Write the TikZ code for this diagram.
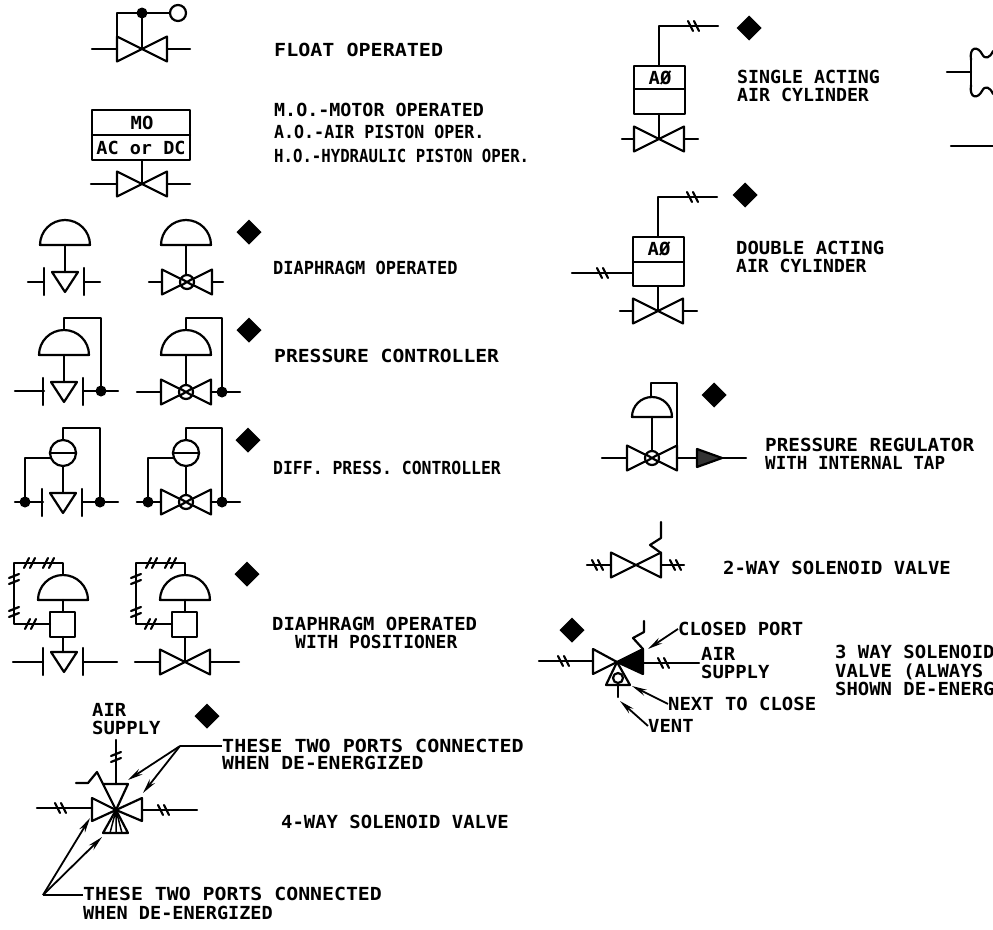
\documentclass[tikz,border=0pt]{standalone}
\usepackage{fontspec}
\newfontfamily\cadfont{DejaVu Sans Mono}
\usetikzlibrary{arrows.meta}

\newcommand{\valve}[2]{\draw[pipe] (#1-25,#2-12.5) -- ++(0,25) -- (#1+25,#2-12.5) -- ++(0,25) -- cycle;}
\newcommand{\ball}[2]{\draw[pipe,fill=white] (#1,#2) circle (7); \draw[pipe] (#1-6,#2-3.5) -- (#1+6,#2+3.5) (#1-6,#2+3.5) -- (#1+6,#2-3.5);}
\newcommand{\cutvalve}[2]{\draw[pipe] (#1-13,#2-10) -- (#1+13,#2-10) -- (#1,#2+10) -- cycle;
  \draw[pipe] (#1-21,#2-14) -- ++(0,27) (#1+19,#2-14) -- ++(0,27);}
\newcommand{\dome}[3]{\draw[pipe] (#1-#3,#2) arc[start angle=180,end angle=360,radius=#3] -- cycle;}
\newcommand{\cell}[2]{\draw[pipe] (#1,#2) circle (13); \draw[pipe,line width=2.8pt] (#1-13,#2) -- (#1+13,#2);}
\newcommand{\blip}[2]{\fill (#1,#2-12.5) -- (#1+12.5,#2) -- (#1,#2+12.5) -- (#1-12.5,#2) -- cycle;}
\newcommand{\joint}[2]{\fill (#1,#2) circle (5.5);}
\newcommand{\hticks}[2]{\draw[pipe] (#1-6,#2+5) -- (#1-1,#2-5) (#1,#2+5) -- (#1+5,#2-5);}
\newcommand{\bticks}[2]{\draw[pipe] (#1-5,#2-5) -- (#1,#2+5) (#1+1,#2-5) -- (#1+6,#2+5);}
\newcommand{\vticks}[2]{\draw[pipe] (#1-5,#2-1) -- (#1+5,#2-5) (#1-5,#2+5) -- (#1+5,#2+1);}

\tikzset{nar/.style={xscale=#1,transform shape}}

\begin{document}
\begin{tikzpicture}[x=1pt,y=-1pt]

  \tikzstyle{pipe}=[line width=2.2pt,line join=round,line cap=round]
  \tikzstyle{lab}=[font=\cadfont\bfseries\fontsize{18}{18}\selectfont,inner sep=0,anchor=base west,nar=1.05]
  \tikzstyle{mid}=[font=\cadfont\bfseries\fontsize{18}{18}\selectfont,inner sep=0,nar=1.05]
  \tikzstyle{leader}=[line width=1.8pt,-{Stealth[length=15pt,width=6.5pt]}]

  \useasboundingbox (0,0) rectangle (993,929);
  \clip (0,0) rectangle (993,929);

  % float operated
  \valve{142}{49}
  \draw[pipe] (92,49) -- (117,49) (167,49) -- (190,49);
  \draw[pipe] (142,49) -- (142,13) (117,37) -- (117,13) -- (170,13);
  \draw[pipe] (178,13) circle (8);
  \joint{142}{13}
  \node[lab,nar=1.06] (float) at (274,56.5) {FLOAT OPERATED};

  % motor operated
  \draw[pipe] (92,110) rectangle (190,160) (92,135) -- (190,135);
  \node[mid] (mo) at (142,123) {MO};
  \node[mid,nar=.98] (acdc) at (141,148) {AC or DC};
  \draw[pipe] (142,160) -- (142,184);
  \valve{142}{184}
  \draw[pipe] (91,184) -- (117,184) (167,184) -- (190,184);
  \path (274,116.5) node[lab,nar=.97] (moa) {M.O.-MOTOR OPERATED}
        (274,138.5) node[lab,nar=.88] (mob) {A.O.-AIR PISTON OPER.}
        (274,162.5) node[lab,nar=.83] (moc) {H.O.-HYDRAULIC PISTON OPER.};

  % diaphragm operated
  \dome{65}{245}{25}
  \draw[pipe] (65,245) -- (65,272);
  \cutvalve{65}{282}
  \draw[pipe] (28,282) -- (44,282) (84,282) -- (100,282);
  \dome{186}{245}{25}
  \draw[pipe] (186,245) -- (186,275);
  \valve{187}{282}
  \ball{187}{282}
  \draw[pipe] (149,282) -- (162,282) (212,282) -- (223,282);
  \blip{249}{232}
  \node[lab,nar=.9] (diaop) at (273,274.5) {DIAPHRAGM OPERATED};

  % pressure controller
  \dome{64}{355}{25}
  \draw[pipe] (64,355) -- (64,382) (64,330) -- (64,318) -- (101,318) -- (101,391);
  \cutvalve{64}{392}
  \draw[pipe] (15,391) -- (44,391) (84,391) -- (118,391);
  \joint{101}{391}
  \dome{186}{355}{25}
  \draw[pipe] (186,355) -- (186,384) (186,330) -- (186,318) -- (222,318) -- (222,392);
  \valve{186}{392}
  \ball{186}{392}
  \draw[pipe] (137,392) -- (161,392) (211,392) -- (240,392);
  \joint{222}{392}
  \blip{249}{330}
  \node[lab,nar=1.04] (presctl) at (274,362.5) {PRESSURE CONTROLLER};

  % diff. press. controller
  \cell{63}{453}
  \draw[pipe] (63,440) -- (63,428) -- (100,428) -- (100,502);
  \draw[pipe] (51,458) -- (25,458) -- (25,502) (63,466) -- (63,492);
  \cutvalve{63}{503}
  \draw[pipe] (15,502) -- (43,502) (83,502) -- (118,502);
  \joint{25}{502}
  \joint{100}{502}
  \cell{186}{453}
  \draw[pipe] (186,440) -- (186,428) -- (222,428) -- (222,502);
  \draw[pipe] (174,458) -- (148,458) -- (148,502) (186,466) -- (186,495);
  \valve{186}{502}
  \ball{186}{502}
  \draw[pipe] (137,502) -- (161,502) (211,502) -- (240,502);
  \joint{148}{502}
  \joint{222}{502}
  \blip{248}{440}
  \node[lab,nar=.87] (diffctl) at (273,474.5) {DIFF. PRESS. CONTROLLER};

  % with positioner
  \dome{63}{600}{25}
  \draw[pipe] (50,612) rectangle (75,637);
  \draw[pipe] (63,600) -- (63,612) (63,637) -- (63,652);
  \draw[pipe] (50,624) -- (14,624) -- (14,563) -- (63,563) -- (63,575);
  \hticks{30}{563} \hticks{49}{563} \hticks{31}{624}
  \vticks{14}{579} \vticks{14}{612}
  \cutvalve{64}{662}
  \draw[pipe] (13,662) -- (43,662) (83,662) -- (117,662);
  \dome{185}{600}{25}
  \draw[pipe] (172,612) rectangle (197,637);
  \draw[pipe] (185,600) -- (185,612) (185,637) -- (185,662);
  \draw[pipe] (172,624) -- (136,624) -- (136,563) -- (185,563) -- (185,575);
  \hticks{152}{563} \hticks{171}{563} \hticks{151}{624}
  \vticks{136}{579} \vticks{136}{612}
  \valve{185}{662}
  \draw[pipe] (135,662) -- (160,662) (210,662) -- (239,662);
  \blip{247}{574}
  \node[lab] (diaa) at (272,630) {DIAPHRAGM OPERATED};
  \node[lab,nar=.95] (diab) at (295,648) {WITH POSITIONER};

  % 4-way solenoid
  \draw[pipe] (116,810) -- (92,798) -- (92,821) -- (116,810) -- (142,798) -- (142,821) -- cycle;
  \draw[pipe] (116,810) -- (103,784) -- (128,784) -- cycle;
  \draw[pipe] (116,810) -- (103,833) -- (128,833) -- cycle;
  \draw[line width=1.5pt] (116,810) -- (116,833) (116,810) -- (110,833) (116,810) -- (122,833);
  \draw[pipe] (37,808) -- (92,808) (142,810) -- (197,810);
  \bticks{60}{808} \bticks{163}{810}
  \draw[pipe] (116,740) -- (116,784);
  \vticks{116}{757}
  \draw[pipe] (76,783) -- (88,783) -- (97,772) -- (103,784);
  \path (92,716.5) node[lab] (aira) {AIR}
        (92,734.5) node[lab] (airb) {SUPPLY};
  \blip{207}{716}
  \path (222,752) node[lab,nar=1.06] (upa) {THESE TWO PORTS CONNECTED}
        (222,769.5) node[lab,nar=1.04] (upb) {WHEN DE-ENERGIZED}
        (281,828.5) node[lab] (four) {4-WAY SOLENOID VALVE}
        (83,900.5) node[lab,nar=1.05] (loa) {THESE TWO PORTS CONNECTED}
        (83,919.5) node[lab,nar=.98] (lob) {WHEN DE-ENERGIZED};
  \coordinate (upfork) at (180,746);
  \coordinate (lofork) at (43,895);
  \coordinate (upt) at (128,780);
  \coordinate (upr) at (143,793);
  \coordinate (lol) at (90,818);
  \coordinate (lor) at (102,837);
  \draw[line width=1.8pt] (upa.west |- upfork) -- (upfork) (loa.west |- lofork) -- (lofork);
  \draw[leader] (upfork) -- (upt);
  \draw[leader] (upfork) -- (upr);
  \draw[leader] (lofork) -- (lol);
  \draw[leader] (lofork) -- (lor);

  % single acting cylinder
  \draw[pipe] (634,66) rectangle (685,114) (634,89) -- (685,89);
  \node[mid] (aoa) at (660,78) {AØ};
  \draw[pipe] (659,66) -- (659,26) -- (718,26);
  \bticks{693}{26}
  \draw[pipe] (659,114) -- (659,139);
  \valve{659}{139}
  \draw[pipe] (622,139) -- (634,139) (684,139) -- (698,139);
  \blip{749}{28}
  \path (737,83.5) node[lab,nar=.965] (sinb) {SINGLE ACTING}
        (737,101.5) node[lab,nar=.965] (sinc) {AIR CYLINDER};

  % double acting cylinder
  \draw[pipe] (633,237) rectangle (684,286) (633,262) -- (684,262);
  \node[mid] (aob) at (659,249) {AØ};
  \draw[pipe] (658,237) -- (658,197) -- (717,197);
  \bticks{692}{197}
  \draw[pipe] (572,273) -- (633,273);
  \bticks{602}{273}
  \draw[pipe] (658,286) -- (658,311);
  \valve{658}{311}
  \draw[pipe] (620,311) -- (633,311) (683,311) -- (697,311);
  \blip{745}{195}
  \path (736,254.5) node[lab] (dbla) {DOUBLE ACTING}
        (736,272.5) node[lab,nar=.955] (dblb) {AIR CYLINDER};

  % pipe bends at the edge
  \draw[pipe] (947,72) -- (971,72) (971,60) -- (971,85);
  \draw[pipe] (971,60) .. controls (969,46) and (978,46) .. (982,54) .. controls (985,60) and (990,58) .. (993,51);
  \draw[pipe] (971,85) .. controls (969,99) and (978,99) .. (982,91) .. controls (985,85) and (990,87) .. (993,94);
  \draw[pipe] (951,146) -- (993,146);

  % pressure regulator
  \dome{652}{417}{20}
  \draw[pipe] (652,417) -- (652,451) (651,397) -- (651,383) -- (677,383) -- (677,458);
  \valve{652}{458}
  \ball{652}{458}
  \draw[pipe] (602,458) -- (627,458) (677,458) -- (746,458);
  \draw[pipe,fill=black!80] (697,449) -- (722,458) -- (697,467) -- cycle;
  \blip{714}{395}
  \path (765,451.5) node[lab,nar=1.02] (rega) {PRESSURE REGULATOR}
        (765,469.5) node[lab,nar=.93] (regb) {WITH INTERNAL TAP};

  % 2-way solenoid
  \valve{636}{565}
  \draw[pipe] (587,565) -- (611,565) (661,565) -- (684,565);
  \bticks{597}{565} \bticks{675}{565}
  \draw[pipe] (661,553) -- (650,545) -- (661,538) -- (661,522);
  \node[lab] (twoway) at (723,574.5) {2-WAY SOLENOID VALVE};

  % 3-way solenoid
  \blip{572}{630}
  \draw[pipe] (617,662) -- (593,649) -- (593,674) -- cycle;
  \draw[pipe,fill=black] (617,662) -- (643,649) -- (643,674) -- cycle;
  \draw[pipe] (617,662) -- (606,685) -- (630,685) -- cycle;
  \draw[pipe] (618,678) circle (5);
  \draw[pipe] (618,685) -- (618,697);
  \draw[pipe] (539,661) -- (593,661) (643,663) -- (699,663);
  \bticks{563}{661} \bticks{663}{663}
  \draw[pipe] (643,649) -- (633,638) -- (644,632) -- (644,621);
  \path (678,635.5) node[lab] (closed) {CLOSED PORT}
        (701,660.5) node[lab] (airc) {AIR}
        (701,678.5) node[lab] (aird) {SUPPLY}
        (668,710.5) node[lab] (nextto) {NEXT TO CLOSE}
        (648,732.5) node[lab] (vent) {VENT};
  \coordinate (closedtip) at (648,649);
  \coordinate (nexttip) at (632,686);
  \coordinate (venttip) at (620,701);
  \draw[leader] (closed.west) -- (closedtip);
  \draw[leader] (nextto.west) -- (nexttip);
  \draw[leader] (vent.west) -- (venttip);
  \path (835,658.5) node[lab] (tha) {3 WAY SOLENOID}
        (835,677.5) node[lab] (thb) {VALVE (ALWAYS}
        (835,695.5) node[lab] (thc) {SHOWN DE-ENERG};

\end{tikzpicture}
\end{document}
